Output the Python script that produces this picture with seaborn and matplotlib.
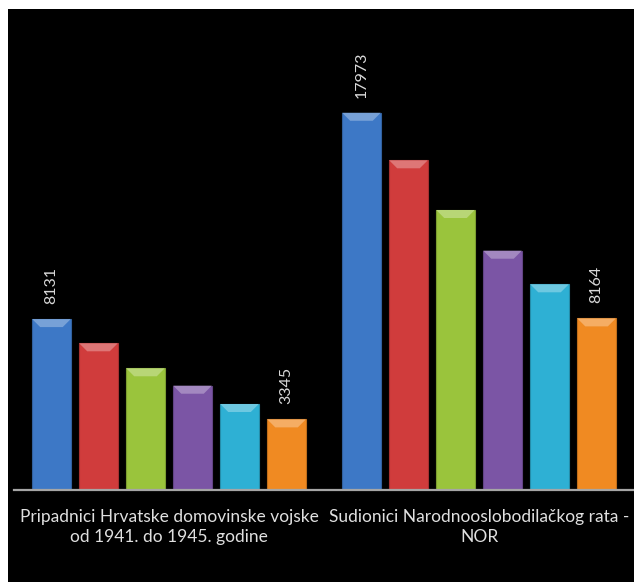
"""Grouped bar chart: Hrvatska domovinska vojska vs. NOR sudionici."""

import matplotlib.pyplot as plt
import pandas as pd
import seaborn as sns
from matplotlib.patches import Polygon, Rectangle
from matplotlib.colors import to_rgb

# Data
groups = [
    "Pripadnici Hrvatske domovinske vojske\nod 1941. do 1945. godine",
    "Sudionici Narodnooslobodilačkog rata -\nNOR",
]
series = ["S1", "S2", "S3", "S4", "S5", "S6"]
values_hdv = [8131, 6975, 5783, 4952, 4079, 3345]
values_nor = [17973, 15706, 13335, 11393, 9790, 8164]
colors = ["#3d78c6", "#d03c3c", "#9ac43c", "#7b55a5", "#2eb0d4", "#f08a22"]

df = pd.DataFrame({
    "group": [groups[0]] * len(series) + [groups[1]] * len(series),
    "series": series * 2,
    "value": values_hdv + values_nor,
})

sns.set_theme(style="white")
plt.rcParams["font.family"] = ["Lato", "DejaVu Sans"]

W, H = 634, 582
fig = plt.figure(figsize=(W / 100, H / 100), dpi=100, facecolor="white")
# black panel (white strip left and top)
fig.patches.append(Rectangle((8 / W, 0), 1, (H - 9) / H, transform=fig.transFigure,
                             facecolor="black", edgecolor="none", zorder=-10))

base_y = 489.5
ax = fig.add_axes([14 / W, (H - base_y) / H, 620 / W, (base_y - 9) / H])
ax.set_facecolor("none")
ax.set_zorder(5)

sns.barplot(data=df, x="group", y="value", hue="series", hue_order=series,
            order=groups, palette=colors, width=0.91, gap=0.18,
            legend=False, ax=ax, saturation=1, edgecolor="none")

ax.set_xlim(-0.5, 1.5)
ax.set_ylim(0, 22925)
ax.set_xlabel("")
ax.set_ylabel("")
ax.set_yticks([])
ax.tick_params(axis="x", length=0, pad=14, labelsize=12.5, labelcolor="#e0e0e0")
for lbl in ax.get_xticklabels():
    lbl.set_linespacing(1.35)
for side in ["top", "left", "right"]:
    ax.spines[side].set_visible(False)
ax.spines["bottom"].set_color("#a6a6a6")
ax.spines["bottom"].set_linewidth(1.6)

# bevel effect on the bar tops, derived from the drawn bars
fig.canvas.draw()
inv = ax.transData.inverted()
for cont in ax.containers:
    for bar in cont:
        x0, y0 = bar.get_x(), bar.get_y()
        x1, y1 = x0 + bar.get_width(), y0 + bar.get_height()
        px0, py1 = ax.transData.transform((x0, y1))
        px1, _ = ax.transData.transform((x1, y1))
        bev = 8
        pts_px = [(px0, py1), (px1, py1), (px1 - bev, py1 - bev), (px0 + bev, py1 - bev)]
        pts = inv.transform(pts_px)
        rgb = to_rgb(bar.get_facecolor())
        light = tuple(min(1, c + (1 - c) * 0.3) for c in rgb)
        ax.add_patch(Polygon(pts, closed=True, facecolor=light, edgecolor="none", zorder=3))
        dark = tuple(c * 0.8 for c in rgb)
        bar.set_edgecolor(dark)
        bar.set_linewidth(0.8)

for cont in [ax.containers[0], ax.containers[-1]]:
    ax.bar_label(cont, labels=[f"{v:.0f}" for v in cont.datavalues], rotation=90,
                 padding=11, color="#d9d9d9", fontsize=11.5)

plt.savefig("out.png", dpi=100, facecolor=fig.get_facecolor())
plt.close()
